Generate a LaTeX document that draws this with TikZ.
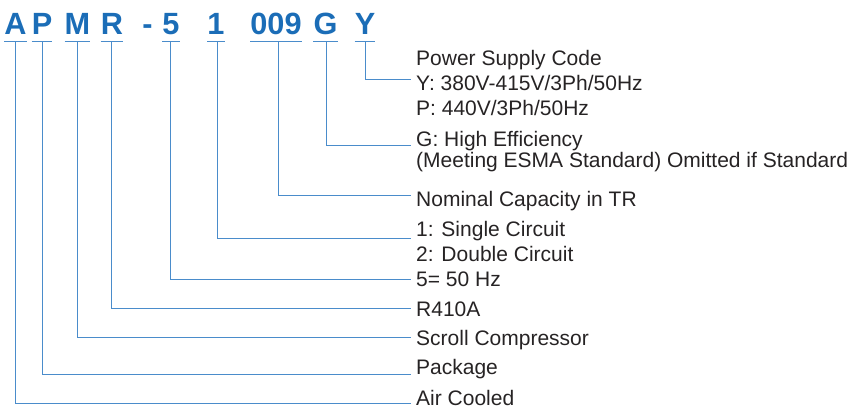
\documentclass[tikz,border=0pt]{standalone}
\usepackage{fontspec}
\setmainfont{Liberation Sans}
\definecolor{codeblue}{HTML}{1B6DB7}
\definecolor{leadblue}{HTML}{4A8CCB}
\definecolor{txtgray}{HTML}{262324}
\tikzset{
  code/.style={font=\fontsize{30.7}{32}\selectfont\bfseries, text=codeblue, inner sep=0pt, anchor=base},
  desc/.style={font=\fontsize{21}{24}\selectfont, text=txtgray, inner sep=0pt, anchor=base west},
  lead/.style={draw=leadblue, line width=1pt},
}
\begin{document}
\begin{tikzpicture}[x=1pt,y=-1pt]
	\useasboundingbox (0,0) rectangle (854,410);
	% model code letters, underlined
	\foreach \n/\c/\x in {A/A/15.5,P/P/42,M/M/77.5,R/R/112,5/5/171,1/1/216,9/009/276,G/G/325.5,Y/Y/365}{
		\node[code] (c\n) at (\x,34) {\c};
		\draw[lead] ([yshift=-7pt]c\n.base west)--([yshift=-7pt]c\n.base east);
	}
	\node[code] (cdash) at (147.5,34) {-};
	% descriptions
	\path (416,65)node[desc](dY){Power Supply Code}
		(416,90)node[desc](dYa){Y: 380V-415V/3Ph/50Hz}
		(416,115)node[desc](dYb){P: 440V/3Ph/50Hz}
		(416,167.2)node[desc,align=left,font=\fontsize{21}{16.5}\selectfont](dG){G: High Efficiency\\(Meeting ESMA Standard) Omitted if Standard}
		(416,206)node[desc](d9){Nominal Capacity in TR}
		(416,236.7)node[desc](d1){1: Single Circuit}
		(416,261.7)node[desc](d1a){2: Double Circuit}
		(416,286.7)node[desc](d5){5= 50 Hz}
		(416,316.7)node[desc](dR){R410A}
		(416,345)node[desc](dM){Scroll Compressor}
		(416,374)node[desc](dP){Package}
		(416,405)node[desc](dA){Air Cooled};
	% leader lines
	\foreach \n/\vx/\ly in {Y/365.7/79.5,G/326/145,9/278.7/195,1/217.3/238.5,5/170.7/279,R/111.7/308,M/77.3/337,P/42/374,A/15.3/403}{
		\coordinate (u\n) at (\vx,41);
		\coordinate (e\n) at (410.7,\ly);
		\draw[lead] (u\n) |- (e\n);
	}
\end{tikzpicture}
\end{document}
